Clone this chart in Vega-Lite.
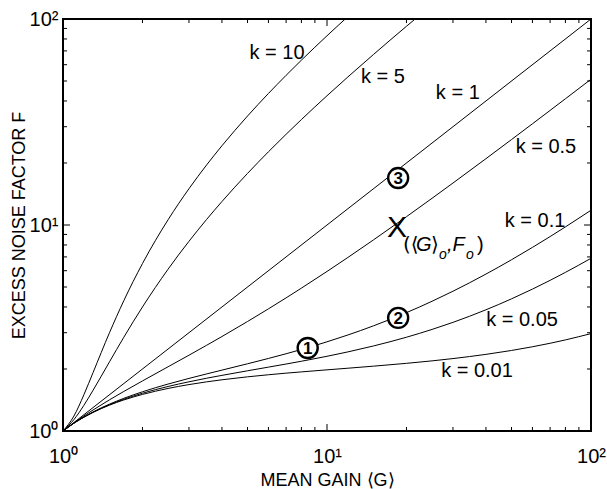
{
  "$schema": "https://vega.github.io/schema/vega-lite/v6.json",
  "width": 528,
  "height": 412,
  "autosize": {"type": "none"},
  "padding": {"left": 63, "top": 19, "right": 16, "bottom": 58},
  "background": "white",
  "config": {
    "view": {"stroke": "black", "strokeWidth": 2},
    "font": "Liberation Sans"
  },
  "datasets": {
    "curves": [
      {"k": "10", "G": 1, "F": 1}, {"k": "10", "G": 1.1, "F": 1.182}, {"k": "10", "G": 1.2, "F": 1.5}, {"k": "10", "G": 1.3, "F": 1.923}, {"k": "10", "G": 1.5, "F": 3}, {"k": "10", "G": 1.7, "F": 4.294}, {"k": "10", "G": 2, "F": 6.5}, {"k": "10", "G": 2.5, "F": 10.6}, {"k": "10", "G": 3, "F": 15}, {"k": "10", "G": 3.5, "F": 19.571}, {"k": "10", "G": 4, "F": 24.25}, {"k": "10", "G": 5, "F": 33.8}, {"k": "10", "G": 6, "F": 43.5}, {"k": "10", "G": 7, "F": 53.286}, {"k": "10", "G": 8, "F": 63.125}, {"k": "10", "G": 10, "F": 82.9}, {"k": "10", "G": 11, "F": 92.818}, {"k": "10", "G": 12, "F": 102.75},
      {"k": "5", "G": 1, "F": 1}, {"k": "5", "G": 1.1, "F": 1.136}, {"k": "5", "G": 1.2, "F": 1.333}, {"k": "5", "G": 1.3, "F": 1.577}, {"k": "5", "G": 1.5, "F": 2.167}, {"k": "5", "G": 1.7, "F": 2.853}, {"k": "5", "G": 2, "F": 4}, {"k": "5", "G": 2.5, "F": 6.1}, {"k": "5", "G": 3, "F": 8.333}, {"k": "5", "G": 3.5, "F": 10.643}, {"k": "5", "G": 4, "F": 13}, {"k": "5", "G": 5, "F": 17.8}, {"k": "5", "G": 6, "F": 22.667}, {"k": "5", "G": 7, "F": 27.571}, {"k": "5", "G": 8, "F": 32.5}, {"k": "5", "G": 10, "F": 42.4}, {"k": "5", "G": 12, "F": 52.333}, {"k": "5", "G": 15, "F": 67.267}, {"k": "5", "G": 20, "F": 92.2}, {"k": "5", "G": 25, "F": 117.16},
      {"k": "1", "G": 1, "F": 1}, {"k": "1", "G": 10, "F": 10}, {"k": "1", "G": 100, "F": 100},
      {"k": "0.5", "G": 1, "F": 1}, {"k": "0.5", "G": 1.1, "F": 1.095}, {"k": "0.5", "G": 1.2, "F": 1.183}, {"k": "0.5", "G": 1.3, "F": 1.265}, {"k": "0.5", "G": 1.5, "F": 1.417}, {"k": "0.5", "G": 1.7, "F": 1.556}, {"k": "0.5", "G": 2, "F": 1.75}, {"k": "0.5", "G": 2.5, "F": 2.05}, {"k": "0.5", "G": 3, "F": 2.333}, {"k": "0.5", "G": 3.5, "F": 2.607}, {"k": "0.5", "G": 4, "F": 2.875}, {"k": "0.5", "G": 5, "F": 3.4}, {"k": "0.5", "G": 6, "F": 3.917}, {"k": "0.5", "G": 7, "F": 4.429}, {"k": "0.5", "G": 8, "F": 4.9375}, {"k": "0.5", "G": 10, "F": 5.95}, {"k": "0.5", "G": 12, "F": 6.958}, {"k": "0.5", "G": 15, "F": 8.467}, {"k": "0.5", "G": 20, "F": 10.975}, {"k": "0.5", "G": 25, "F": 13.48}, {"k": "0.5", "G": 30, "F": 15.983}, {"k": "0.5", "G": 40, "F": 20.988}, {"k": "0.5", "G": 50, "F": 25.99}, {"k": "0.5", "G": 60, "F": 30.992}, {"k": "0.5", "G": 70, "F": 35.993}, {"k": "0.5", "G": 80, "F": 40.994}, {"k": "0.5", "G": 100, "F": 50.995},
      {"k": "0.1", "G": 1, "F": 1}, {"k": "0.1", "G": 1.1, "F": 1.092}, {"k": "0.1", "G": 1.2, "F": 1.17}, {"k": "0.1", "G": 1.3, "F": 1.238}, {"k": "0.1", "G": 1.5, "F": 1.35}, {"k": "0.1", "G": 1.7, "F": 1.441}, {"k": "0.1", "G": 2, "F": 1.55}, {"k": "0.1", "G": 2.5, "F": 1.69}, {"k": "0.1", "G": 3, "F": 1.8}, {"k": "0.1", "G": 3.5, "F": 1.893}, {"k": "0.1", "G": 4, "F": 1.975}, {"k": "0.1", "G": 5, "F": 2.12}, {"k": "0.1", "G": 6, "F": 2.25}, {"k": "0.1", "G": 7, "F": 2.371}, {"k": "0.1", "G": 8, "F": 2.4875}, {"k": "0.1", "G": 10, "F": 2.71}, {"k": "0.1", "G": 12, "F": 2.925}, {"k": "0.1", "G": 15, "F": 3.24}, {"k": "0.1", "G": 20, "F": 3.755}, {"k": "0.1", "G": 25, "F": 4.264}, {"k": "0.1", "G": 30, "F": 4.77}, {"k": "0.1", "G": 40, "F": 5.7775}, {"k": "0.1", "G": 50, "F": 6.782}, {"k": "0.1", "G": 60, "F": 7.785}, {"k": "0.1", "G": 70, "F": 8.787}, {"k": "0.1", "G": 80, "F": 9.789}, {"k": "0.1", "G": 100, "F": 11.791},
      {"k": "0.05", "G": 1, "F": 1}, {"k": "0.05", "G": 1.1, "F": 1.091}, {"k": "0.05", "G": 1.2, "F": 1.168}, {"k": "0.05", "G": 1.3, "F": 1.234}, {"k": "0.05", "G": 1.5, "F": 1.342}, {"k": "0.05", "G": 1.7, "F": 1.426}, {"k": "0.05", "G": 2, "F": 1.525}, {"k": "0.05", "G": 2.5, "F": 1.645}, {"k": "0.05", "G": 3, "F": 1.733}, {"k": "0.05", "G": 3.5, "F": 1.804}, {"k": "0.05", "G": 4, "F": 1.8625}, {"k": "0.05", "G": 5, "F": 1.96}, {"k": "0.05", "G": 6, "F": 2.042}, {"k": "0.05", "G": 7, "F": 2.114}, {"k": "0.05", "G": 8, "F": 2.181}, {"k": "0.05", "G": 10, "F": 2.305}, {"k": "0.05", "G": 12, "F": 2.421}, {"k": "0.05", "G": 15, "F": 2.587}, {"k": "0.05", "G": 20, "F": 2.8525}, {"k": "0.05", "G": 25, "F": 3.112}, {"k": "0.05", "G": 30, "F": 3.368}, {"k": "0.05", "G": 40, "F": 3.876}, {"k": "0.05", "G": 50, "F": 4.381}, {"k": "0.05", "G": 60, "F": 4.884}, {"k": "0.05", "G": 70, "F": 5.386}, {"k": "0.05", "G": 80, "F": 5.888}, {"k": "0.05", "G": 100, "F": 6.8905},
      {"k": "0.01", "G": 1, "F": 1}, {"k": "0.01", "G": 1.1, "F": 1.091}, {"k": "0.01", "G": 1.2, "F": 1.167}, {"k": "0.01", "G": 1.3, "F": 1.231}, {"k": "0.01", "G": 1.5, "F": 1.335}, {"k": "0.01", "G": 1.7, "F": 1.415}, {"k": "0.01", "G": 2, "F": 1.505}, {"k": "0.01", "G": 2.5, "F": 1.609}, {"k": "0.01", "G": 3, "F": 1.68}, {"k": "0.01", "G": 3.5, "F": 1.732}, {"k": "0.01", "G": 4, "F": 1.7725}, {"k": "0.01", "G": 5, "F": 1.832}, {"k": "0.01", "G": 6, "F": 1.875}, {"k": "0.01", "G": 7, "F": 1.909}, {"k": "0.01", "G": 8, "F": 1.936}, {"k": "0.01", "G": 10, "F": 1.981}, {"k": "0.01", "G": 12, "F": 2.0175}, {"k": "0.01", "G": 15, "F": 2.064}, {"k": "0.01", "G": 20, "F": 2.1305}, {"k": "0.01", "G": 25, "F": 2.19}, {"k": "0.01", "G": 30, "F": 2.247}, {"k": "0.01", "G": 40, "F": 2.355}, {"k": "0.01", "G": 50, "F": 2.46}, {"k": "0.01", "G": 60, "F": 2.5635}, {"k": "0.01", "G": 70, "F": 2.666}, {"k": "0.01", "G": 80, "F": 2.768}, {"k": "0.01", "G": 100, "F": 2.97}
    ],
    "minorticks": [
      {"v": 2}, {"v": 3}, {"v": 4}, {"v": 5}, {"v": 6}, {"v": 7}, {"v": 8}, {"v": 9},
      {"v": 20}, {"v": 30}, {"v": 40}, {"v": 50}, {"v": 60}, {"v": 70}, {"v": 80}, {"v": 90}
    ],
    "majorticks": [
      {"v": 10}
    ],
    "klabels": [
      {"label": "k = 10", "G": 6.47, "F": 68.4},
      {"label": "k = 5", "G": 16.3, "F": 52.3},
      {"label": "k = 1", "G": 31.3, "F": 43.7},
      {"label": "k = 0.5", "G": 67.5, "F": 23.9},
      {"label": "k = 0.1", "G": 61.4, "F": 10.46},
      {"label": "k = 0.05", "G": 54.8, "F": 3.46},
      {"label": "k = 0.01", "G": 37.0, "F": 1.956}
    ],
    "circles": [
      {"n": "1", "G": 8.45, "F": 2.53},
      {"n": "2", "G": 18.6, "F": 3.54},
      {"n": "3", "G": 18.6, "F": 16.9}
    ],
    "xpoint": [
      {"name": "X", "G": 18.4, "F": 9.78}
    ]
  },
  "layer": [
    {
      "data": {"name": "curves"},
      "mark": {"type": "line", "color": "black", "strokeWidth": 1, "clip": true, "interpolate": "monotone"},
      "encoding": {
        "x": {
          "field": "G", "type": "quantitative",
          "scale": {"type": "log", "domain": [1, 100], "nice": false},
          "axis": {
            "orient": "bottom",
            "values": [1, 10, 100],
            "labelExpr": "datum.value==1?'10⁰':datum.value==10?'10¹':'10²'",
            "grid": false, "domain": false, "ticks": false,
            "labelFont": "Liberation Sans", "labelFontSize": 20, "labelColor": "black",
            "labelOverlap": false, "labelFlush": false, "labelBound": false,
            "labelPadding": 15,
            "title": "MEAN GAIN  ⟨G⟩",
            "titleFont": "Liberation Sans", "titleFontSize": 18, "titleColor": "black", "titleFontWeight": "normal",
            "titleX": 264,
            "titleY": 54,
            "titleAlign": "center",
            "titleBaseline": "alphabetic"
          }
        },
        "y": {
          "field": "F", "type": "quantitative",
          "scale": {"type": "log", "domain": [1, 100], "nice": false},
          "axis": {
            "orient": "left",
            "values": [1, 10, 100],
            "labelExpr": "datum.value==1?'10⁰':datum.value==10?'10¹':'10²'",
            "grid": false, "domain": false, "ticks": false,
            "labelFont": "Liberation Sans", "labelFontSize": 20, "labelColor": "black",
            "labelOverlap": false, "labelFlush": false, "labelBound": false,
            "labelPadding": 5,
            "title": "EXCESS NOISE FACTOR F",
            "titleFont": "Liberation Sans", "titleFontSize": 18, "titleColor": "black", "titleFontWeight": "normal",
            "titleX": -44,
            "titleY": 206,
            "titleAngle": -90,
            "titleAlign": "center",
            "titleBaseline": "middle"
          }
        },
        "detail": {"field": "k"}
      }
    },
    {
      "data": {"name": "minorticks"},
      "mark": {"type": "rule", "color": "black", "strokeWidth": 1},
      "encoding": {"x": {"field": "v", "type": "quantitative"}, "y": {"datum": 1}, "y2": {"datum": 1.046}}
    },
    {
      "data": {"name": "minorticks"},
      "mark": {"type": "rule", "color": "black", "strokeWidth": 1},
      "encoding": {"x": {"field": "v", "type": "quantitative"}, "y": {"datum": 100}, "y2": {"datum": 95.6}}
    },
    {
      "data": {"name": "minorticks"},
      "mark": {"type": "rule", "color": "black", "strokeWidth": 1},
      "encoding": {"y": {"field": "v", "type": "quantitative"}, "x": {"datum": 1}, "x2": {"datum": 1.036}}
    },
    {
      "data": {"name": "minorticks"},
      "mark": {"type": "rule", "color": "black", "strokeWidth": 1},
      "encoding": {"y": {"field": "v", "type": "quantitative"}, "x": {"datum": 100}, "x2": {"datum": 96.6}}
    },
    {
      "data": {"name": "majorticks"},
      "mark": {"type": "rule", "color": "black", "strokeWidth": 1},
      "encoding": {"x": {"field": "v", "type": "quantitative"}, "y": {"datum": 1}, "y2": {"datum": 1.081}}
    },
    {
      "data": {"name": "majorticks"},
      "mark": {"type": "rule", "color": "black", "strokeWidth": 1},
      "encoding": {"x": {"field": "v", "type": "quantitative"}, "y": {"datum": 100}, "y2": {"datum": 92.5}}
    },
    {
      "data": {"name": "majorticks"},
      "mark": {"type": "rule", "color": "black", "strokeWidth": 1},
      "encoding": {"y": {"field": "v", "type": "quantitative"}, "x": {"datum": 1}, "x2": {"datum": 1.063}}
    },
    {
      "data": {"name": "majorticks"},
      "mark": {"type": "rule", "color": "black", "strokeWidth": 1},
      "encoding": {"y": {"field": "v", "type": "quantitative"}, "x": {"datum": 100}, "x2": {"datum": 94.1}}
    },
    {
      "data": {"name": "circles"},
      "mark": {"type": "point", "shape": "circle", "size": 400, "filled": false, "fill": "white", "fillOpacity": 1, "stroke": "black", "strokeWidth": 2.4, "opacity": 1},
      "encoding": {
        "x": {"field": "G", "type": "quantitative"},
        "y": {"field": "F", "type": "quantitative"}
      }
    },
    {
      "data": {"name": "circles"},
      "mark": {"type": "text", "fontSize": 17, "fontWeight": "bold", "align": "center", "baseline": "middle", "color": "black", "dy": 1},
      "encoding": {
        "x": {"field": "G", "type": "quantitative"},
        "y": {"field": "F", "type": "quantitative"},
        "text": {"field": "n"}
      }
    },
    {
      "data": {"name": "klabels"},
      "mark": {"type": "text", "fontSize": 20, "align": "center", "baseline": "middle", "color": "black"},
      "encoding": {
        "x": {"field": "G", "type": "quantitative"},
        "y": {"field": "F", "type": "quantitative"},
        "text": {"field": "label"}
      }
    },
    {
      "data": {"name": "xpoint"},
      "mark": {"type": "text", "fontSize": 30, "align": "center", "baseline": "middle", "color": "black", "dy": 1},
      "encoding": {
        "x": {"field": "G", "type": "quantitative"},
        "y": {"field": "F", "type": "quantitative"},
        "text": {"field": "name"}
      }
    },
    {
      "data": {"name": "xpoint"},
      "mark": {"type": "text", "fontSize": 20, "font": "DejaVu Sans", "align": "left", "baseline": "alphabetic", "color": "black", "dx": 6, "dy": 24, "text": "(⟨"},
      "encoding": {
        "x": {"field": "G", "type": "quantitative"},
        "y": {"field": "F", "type": "quantitative"}
      }
    },
    {
      "data": {"name": "xpoint"},
      "mark": {"type": "text", "fontSize": 20, "fontStyle": "italic", "align": "left", "baseline": "alphabetic", "color": "black", "dx": 19, "dy": 24, "text": "G"},
      "encoding": {
        "x": {"field": "G", "type": "quantitative"},
        "y": {"field": "F", "type": "quantitative"}
      }
    },
    {
      "data": {"name": "xpoint"},
      "mark": {"type": "text", "fontSize": 20, "font": "DejaVu Sans", "align": "left", "baseline": "alphabetic", "color": "black", "dx": 34, "dy": 24, "text": "⟩"},
      "encoding": {
        "x": {"field": "G", "type": "quantitative"},
        "y": {"field": "F", "type": "quantitative"}
      }
    },
    {
      "data": {"name": "xpoint"},
      "mark": {"type": "text", "fontSize": 14, "fontStyle": "italic", "align": "left", "baseline": "alphabetic", "color": "black", "dx": 42, "dy": 32, "text": "o"},
      "encoding": {
        "x": {"field": "G", "type": "quantitative"},
        "y": {"field": "F", "type": "quantitative"}
      }
    },
    {
      "data": {"name": "xpoint"},
      "mark": {"type": "text", "fontSize": 20, "fontStyle": "italic", "align": "left", "baseline": "alphabetic", "color": "black", "dx": 50, "dy": 24, "text": ",F"},
      "encoding": {
        "x": {"field": "G", "type": "quantitative"},
        "y": {"field": "F", "type": "quantitative"}
      }
    },
    {
      "data": {"name": "xpoint"},
      "mark": {"type": "text", "fontSize": 14, "fontStyle": "italic", "align": "left", "baseline": "alphabetic", "color": "black", "dx": 69, "dy": 32, "text": "o"},
      "encoding": {
        "x": {"field": "G", "type": "quantitative"},
        "y": {"field": "F", "type": "quantitative"}
      }
    },
    {
      "data": {"name": "xpoint"},
      "mark": {"type": "text", "fontSize": 20, "align": "left", "baseline": "alphabetic", "color": "black", "dx": 80, "dy": 24, "text": ")"},
      "encoding": {
        "x": {"field": "G", "type": "quantitative"},
        "y": {"field": "F", "type": "quantitative"}
      }
    }
  ]
}
